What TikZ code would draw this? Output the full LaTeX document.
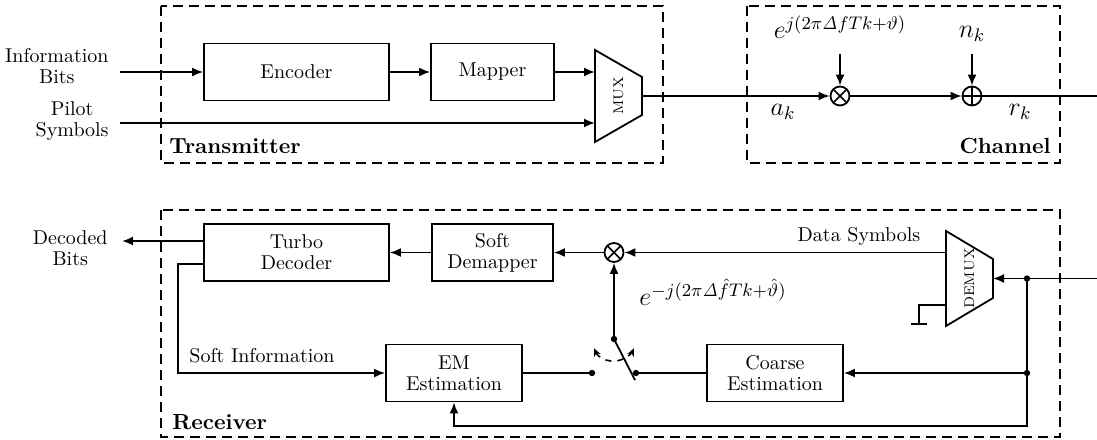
\RequirePackage{fix-cm}
\documentclass[tikz,border=0pt]{standalone}
\usetikzlibrary{arrows.meta,calc}
\begin{document}
\begin{tikzpicture}[x=0.5pt,y=-0.5pt,
  txt/.style={font=\fontsize{10}{10.5}\selectfont, align=center, inner sep=0pt},
  blk/.style={draw, line width=0.9pt, txt, minimum height=28.5pt},
  wire/.style={line width=0.9pt},
  arr/.style={wire, -{Latex[length=5.5pt,width=4.5pt]}},
  grp/.style={draw, line width=0.9pt, dash pattern=on 5pt off 3pt},
  grplbl/.style={font=\fontsize{10.95}{13}\selectfont\bfseries, inner sep=0pt},
  mth/.style={font=\fontsize{13}{15}\selectfont, inner sep=0pt},
  dot/.style={circle, fill, inner sep=0pt, minimum size=3.2pt},
  mult/.style={draw, circle, line width=0.9pt, minimum size=9.5pt, inner sep=0pt,
    path picture={\draw[line width=0.8pt]
      (path picture bounding box.north west) -- (path picture bounding box.south east)
      (path picture bounding box.north east) -- (path picture bounding box.south west);}},
  summ/.style={draw, circle, line width=0.9pt, minimum size=9.5pt, inner sep=0pt,
    path picture={\draw[line width=0.8pt]
      (path picture bounding box.north) -- (path picture bounding box.south)
      (path picture bounding box.east) -- (path picture bounding box.west);}},
  muxlbl/.style={font=\fontsize{7}{8}\selectfont, rotate=90, inner sep=0pt}
]
\useasboundingbox (0,0) rectangle (1097,439);

% ---------------- group frames ----------------
\draw[grp] (161,6) rectangle (663,163);
\draw[grp] (747,6) rectangle (1060,163);
\draw[grp] (161,210) rectangle (1060,437);
\node[grplbl, anchor=west] (txlbl) at (169,146) {Transmitter};
\node[grplbl, anchor=east] (chlbl) at (1051,146) {Channel};
\node[grplbl, anchor=west] (rxlbl) at (172,422) {Receiver};

% ---------------- transmitter ----------------
\node[txt, anchor=east] (infobits) at (109,66) {Information\\Bits};
\node[txt, anchor=east] (pilots) at (109,121) {Pilot\\Symbols};
\node[blk, minimum width=92.5pt] (encoder) at (296.5,72) {Encoder};
\node[blk, minimum width=61.5pt] (mapper) at (492.5,72) {Mapper};

\coordinate (mux-nw) at (595,50);
\coordinate (mux-ne) at (642,77);
\coordinate (mux-se) at (642,115);
\coordinate (mux-sw) at (595,142);
\draw[wire, line join=miter] (mux-nw) -- (mux-ne) -- (mux-se) -- (mux-sw) -- cycle;
\node[muxlbl] (mux) at (618.5,96) {MUX};
\coordinate (muxout) at (642,96);

\coordinate (infoin) at (120,72);
\coordinate (pilotin) at (120,123);
\draw[arr] (infoin) -- (encoder.west);
\draw[arr] (encoder.east) -- (mapper.west);
\draw[arr] (mapper.east) -- (mapper.east -| mux-nw);
\draw[arr] (pilotin) -- (pilotin -| mux-nw);

% ---------------- channel ----------------
\node[mult] (mul1) at (840,96) {};
\node[summ] (add1) at (972,96) {};
\coordinate (chout) at (1097,96);
\draw[arr] (muxout) -- (mul1);
\draw[arr] (mul1) -- (add1);
\draw[wire] (add1) -- (chout);

\node[mth] (phase) at (840,27) {$e^{j(2\pi\mathit{\Delta} f T k+\vartheta)}$};
\node[mth] (noise) at (972,34) {$n_k$};
\coordinate (phasein) at (840,54);
\coordinate (noisein) at (972,54);
\draw[arr] (phasein) -- (mul1);
\draw[arr] (noisein) -- (add1);
\node[mth] (ak) at (783,112) {$a_k$};
\node[mth] (rk) at (1020,112) {$r_k$};

% ---------------- receiver ----------------
\node[blk, minimum width=92.5pt] (turbo) at (296.5,252.5) {Turbo\\Decoder};
\node[blk, minimum width=60.5pt] (softdem) at (492.5,252.5) {Soft\\Demapper};
\node[blk, minimum width=68pt] (em) at (454,373) {EM\\Estimation};
\node[blk, minimum width=68pt] (coarse) at (775,373) {Coarse\\Estimation};
\node[mult] (mul2) at (614,252.5) {};

% demultiplexer
\coordinate (dmx-nw) at (946,231);
\coordinate (dmx-ne) at (993,259);
\coordinate (dmx-se) at (993,298);
\coordinate (dmx-sw) at (946,326);
\draw[wire, line join=miter] (dmx-nw) -- (dmx-ne) -- (dmx-se) -- (dmx-sw) -- cycle;
\node[muxlbl] (demux) at (969.5,278.5) {DEMUX};
\coordinate (dmx-in) at (993,278.5);
\coordinate (dmx-o1) at (946,252.5);
\coordinate (dmx-o2) at (946,305);

% received samples and their split
\coordinate (rxin) at (1097,278.5);
\coordinate (j1) at (1027,278.5);
\coordinate (j2) at (1027,373);
\coordinate (j3) at (1027,426);
\draw[arr] (rxin) -- (dmx-in);
\draw[arr] (j1) -- (j3) -| (em.south);
\draw[arr] (j2) -- (coarse.east);
\node[dot] at (j1) {};
\node[dot] at (j2) {};

% data path
\draw[arr] (dmx-o1) -- (mul2);
\node[txt, anchor=south] (datalbl) at (859,246) {Data Symbols};
\draw[arr] (mul2) -- (softdem.east);
\draw[arr] (softdem.west) -- (turbo.east);

% pilot output to ground
\coordinate (gnd) at (919,324);
\draw[wire] (dmx-o2) -| (gnd);
\draw[wire] ([xshift=-4pt]gnd) -- ([xshift=4pt]gnd);

% decoder outputs
\coordinate (decout) at (122,241);
\draw[arr] (turbo.west |- decout) -- (decout);
\node[txt, anchor=east] (decbits) at (108,248) {Decoded\\Bits};
\coordinate (sibend) at (178,264);
\draw[arr] (turbo.west |- sibend) -- (sibend) |- (em.west);
\node[txt] (softinfo) at (262,356) {Soft Information};

% estimator switch
\coordinate (swL) at (592,373);
\coordinate (swR) at (636,373);
\coordinate (pivot) at (614,339);
\coordinate (blade) at (635,380);
\draw[wire] (em.east) -- (swL);
\draw[wire] (coarse.west) -- (swR);
\draw[wire] (pivot) -- (blade);
\draw[line width=0.8pt, dashed, {Stealth[length=4pt,width=3.5pt]}-{Stealth[length=4pt,width=3.5pt]}]
  ([shift={(205:11pt)}]pivot) arc[start angle=205, end angle=335, radius=11pt];
\node[dot] at (swL) {};
\node[dot] at (swR) {};
\node[dot] at (pivot) {};
\draw[arr] (pivot) -- (mul2);
\node[mth] (corr) at (713,292) {$e^{-j(2\pi\mathit{\Delta}\hat{f}Tk+\hat{\vartheta})}$};
\end{tikzpicture}
\end{document}
